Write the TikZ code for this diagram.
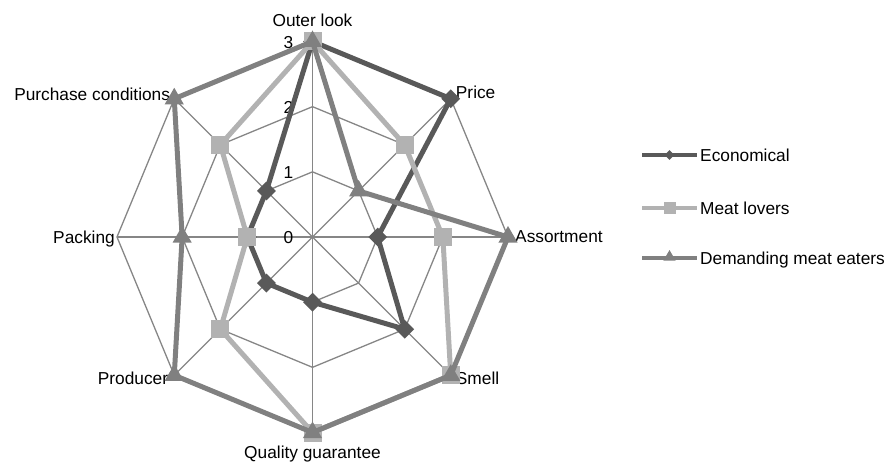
\documentclass[tikz,border=0pt]{standalone}
\usepackage{fontspec}
\setmainfont{Liberation Sans}
\usetikzlibrary{shapes.geometric,positioning}

\definecolor{econ}{RGB}{89,89,89}
\definecolor{lover}{RGB}{178,178,178}
\definecolor{demand}{RGB}{128,128,128}
\definecolor{gridgray}{RGB}{134,134,134}

\newcommand\chartfont{\fontsize{17.3}{20}\selectfont}
\newcommand\runit{65.17}

\tikzset{
  gridline/.style={draw=gridgray, line width=1.3pt},
  lbl/.style={font=\chartfont, inner sep=0pt},
  econline/.style={draw=econ, line width=5pt},
  loverline/.style={draw=lover, line width=5pt},
  demandline/.style={draw=demand, line width=5pt},
  econmark/.style={diamond, fill=econ, inner sep=0pt, minimum width=19pt, minimum height=19pt},
  lovermark/.style={rectangle, fill=lover, inner sep=0pt, minimum size=18pt},
  demandmark/.style={regular polygon, regular polygon sides=3, fill=demand, inner sep=0pt, minimum size=22pt},
}

\begin{document}
\begin{tikzpicture}[x=1pt, y=1pt]
  \useasboundingbox (0,0) rectangle (890,464);

  \begin{scope}[shift={(312.5,227)}]
    % Drawing grid rings
    \foreach \r in {1,2,3}
      \draw[gridline] (90:\r*\runit) -- (45:\r*\runit) -- (0:\r*\runit) -- (-45:\r*\runit)
        -- (-90:\r*\runit) -- (-135:\r*\runit) -- (180:\r*\runit) -- (135:\r*\runit) -- cycle;

    % Drawing spokes
    \foreach \a in {0,45,...,315}
      \draw[gridline] (0,0) -- (\a:3*\runit);

    % Marking values on the axis
    \foreach \v in {0,1,2,3}
      \node[lbl, anchor=east] (tick\v) at (-19,\v*\runit-1) {\v};

    % Marking axis names
    \node[lbl, anchor=base, yshift=14.5pt] (look) at (90:3*\runit) {Outer look};
    \node[lbl, anchor=base west, xshift=5pt] (price) at (45:3*\runit) {Price};
    \node[lbl, anchor=west, xshift=7pt] (assort) at (0:3*\runit) {Assortment};
    \node[lbl, anchor=west, xshift=5pt, yshift=-3pt] (smell) at (-45:3*\runit) {Smell};
    \node[lbl, anchor=base, yshift=-25.5pt] (quality) at (-90:3*\runit) {Quality guarantee};
    \node[lbl, anchor=east, xshift=-6pt, yshift=-3pt] (producer) at (-135:3*\runit) {Producer};
    \node[lbl, anchor=base east, xshift=-2pt, yshift=-6.2pt] (packing) at (180:3*\runit) {Packing};
    \node[lbl, anchor=base east, xshift=-4pt, yshift=-2.2pt] (purchase) at (135:3*\runit) {Purchase conditions};

    % Drawing series Economical
    \draw[econline] (90:3*\runit) -- (45:3*\runit) -- (0:1*\runit) -- (-45:2*\runit)
      -- (-90:1*\runit) -- (-135:1*\runit) -- (180:1*\runit) -- (135:1*\runit) -- cycle;
    \foreach \a/\v [count=\i] in {90/3,45/3,0/1,-45/2,-90/1,-135/1,180/1,135/1}
      \node[econmark] (e\i) at (\a:\v*\runit) {};

    % Drawing series Meat lovers
    \draw[loverline] (90:3*\runit) -- (45:2*\runit) -- (0:2*\runit) -- (-45:3*\runit)
      -- (-90:3*\runit) -- (-135:2*\runit) -- (180:1*\runit) -- (135:2*\runit) -- cycle;
    \foreach \a/\v [count=\i] in {90/3,45/2,0/2,-45/3,-90/3,-135/2,180/1,135/2}
      \node[lovermark] (m\i) at (\a:\v*\runit) {};

    % Drawing series Demanding meat eaters
    \draw[demandline] (90:3*\runit) -- (45:1*\runit) -- (0:3*\runit) -- (-45:3*\runit)
      -- (-90:3*\runit) -- (-135:3*\runit) -- (180:2*\runit) -- (135:3*\runit) -- cycle;
    \foreach \a/\v [count=\i] in {90/3,45/1,0/3,-45/3,-90/3,-135/3,180/2,135/3}
      \node[demandmark] (d\i) at (\a:\v*\runit) {};
  \end{scope}

  % Drawing legend
  \coordinate (la1) at (642,309);
  \coordinate (lb1) at (697,309);
  \coordinate (la2) at (642,256);
  \coordinate (lb2) at (697,256);
  \coordinate (la3) at (642,206);
  \coordinate (lb3) at (697,206);
  \draw[econline, line width=4.5pt] (la1) -- (lb1);
  \node[econmark, minimum width=10pt, minimum height=10pt] (leg-e) at (669.5,309) {};
  \node[lbl, anchor=base west] (txt-e) at (700,302.8) {Economical};
  \draw[loverline, line width=4.5pt] (la2) -- (lb2);
  \node[lovermark, minimum size=12pt] (leg-m) at (669.5,256) {};
  \node[lbl, anchor=base west] (txt-m) at (700,249.8) {Meat lovers};
  \draw[demandline, line width=4.5pt] (la3) -- (lb3);
  \node[demandmark, minimum size=14pt] (leg-d) at (669.5,207) {};
  \node[lbl, anchor=base west] (txt-d) at (700,199.8) {Demanding meat eaters};
\end{tikzpicture}
\end{document}
